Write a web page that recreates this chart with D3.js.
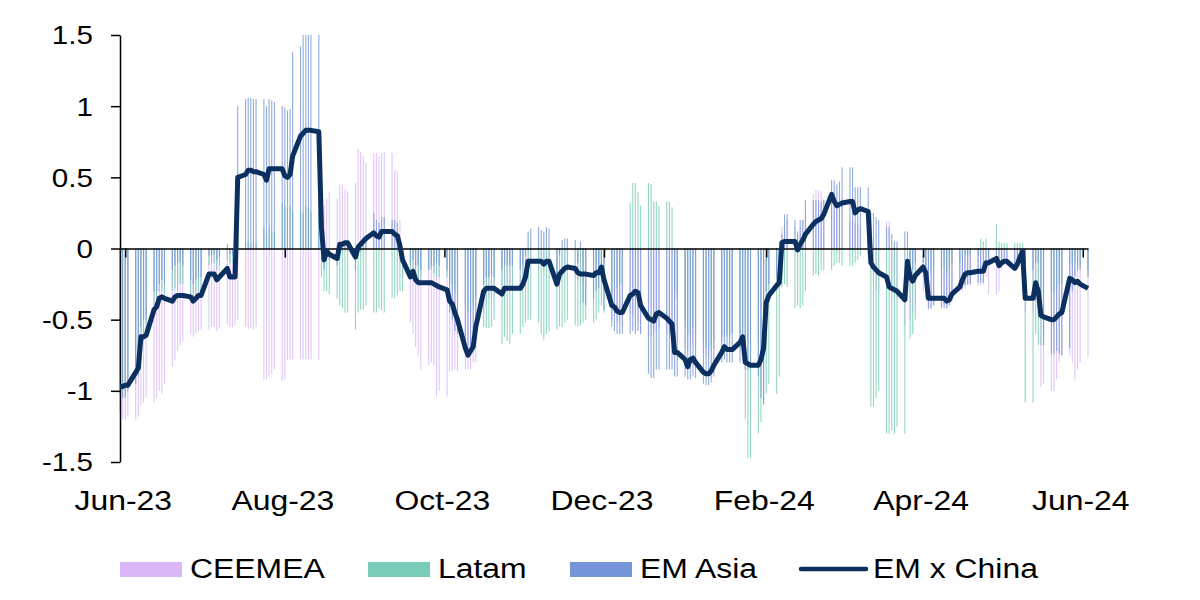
<!DOCTYPE html>
<html>
<head>
<meta charset="utf-8">
<script src="https://cdn.jsdelivr.net/npm/d3@7"></script>
<style>
  body { margin: 0; background: #fff; }
  text { font-family: "Liberation Sans", Arial, sans-serif; fill: #000; }
</style>
</head>
<body>
<svg id="chart" width="1200" height="600"></svg>
<script>
// series names and colours
var seriesNames = ["CEEMEA", "Latam", "EM Asia"];
var seriesColors = ["#dab8f7", "#78ccb8", "#7496d8"];
var lineName = "EM x China";
var lineColor = "#0b2f5e";

// axis ticks
var yTicks = [-1.5, -1, -0.5, 0, 0.5, 1, 1.5];
var xTickDates = ["2023-06-01", "2023-08-01", "2023-10-01", "2023-12-01", "2024-02-01", "2024-04-01", "2024-06-01"];
var xTickLabels = ["Jun-23", "Aug-23", "Oct-23", "Dec-23", "Feb-24", "Apr-24", "Jun-24"];

// first and last business day shown (one value per weekday in between)
var firstDay = "2023-05-30", lastDay = "2024-06-03";

// EM x China (line), one row per week
var emxChina = [
  -0.97,-0.97,-0.96,-0.96,
  -0.87,-0.84,-0.62,-0.62,-0.61,
  -0.43,-0.41,-0.35,-0.34,-0.35,
  -0.37,-0.34,-0.33,-0.33,-0.33,
  -0.34,-0.37,-0.35,-0.33,-0.33,
  -0.18,-0.18,-0.18,-0.22,-0.20,
  -0.14,-0.20,-0.20,-0.20,0.50,
  0.52,0.55,0.55,0.54,0.54,
  0.52,0.48,0.56,0.56,0.56,
  0.56,0.51,0.50,0.52,0.65,
  0.79,0.81,0.83,0.83,0.83,
  0.82,0.15,-0.08,-0.02,-0.04,
  -0.07,0.03,0.03,0.04,0.04,
  -0.06,0.01,0.03,0.05,0.07,
  0.11,0.09,0.08,0.12,0.12,
  0.12,0.10,0.09,0.02,-0.08,
  -0.20,-0.16,-0.22,-0.24,-0.24,
  -0.24,-0.24,-0.25,-0.26,-0.27,
  -0.29,-0.37,-0.39,-0.45,-0.50,
  -0.70,-0.75,-0.72,-0.69,-0.55,
  -0.30,-0.28,-0.28,-0.28,-0.28,
  -0.32,-0.28,-0.28,-0.28,-0.28,
  -0.28,-0.25,-0.20,-0.09,-0.09,
  -0.09,-0.09,-0.11,-0.09,-0.09,
  -0.25,-0.18,-0.16,-0.14,-0.13,
  -0.14,-0.17,-0.18,-0.18,-0.18,
  -0.19,-0.17,-0.17,-0.13,-0.22,
  -0.40,-0.41,-0.44,-0.45,-0.45,
  -0.33,-0.32,-0.30,-0.31,-0.40,
  -0.49,-0.50,-0.51,-0.46,-0.45,
  -0.49,-0.51,-0.53,-0.73,-0.73,
  -0.78,-0.83,-0.78,-0.77,-0.80,
  -0.87,-0.88,-0.88,-0.86,-0.82,
  -0.73,-0.69,-0.71,-0.71,-0.71,
  -0.66,-0.62,-0.80,-0.81,-0.82,
  -0.82,-0.78,-0.70,-0.38,-0.33,
  -0.26,-0.24,0.04,0.05,0.05,
  0.05,-0.01,0.03,0.06,0.10,
  0.17,0.19,0.20,0.21,0.24,
  0.38,0.33,0.30,0.31,0.32,
  0.33,0.33,0.25,0.27,0.28,
  0.26,-0.10,-0.13,-0.15,-0.17,
  -0.20,-0.27,-0.28,-0.29,-0.30,
  -0.36,-0.09,-0.20,-0.23,-0.19,
  -0.13,-0.17,-0.35,-0.35,-0.35,
  -0.35,-0.35,-0.37,-0.36,-0.32,
  -0.27,-0.22,-0.18,-0.17,-0.17,
  -0.16,-0.16,-0.16,-0.10,-0.10,
  -0.07,-0.12,-0.10,-0.09,-0.09,
  -0.14,-0.11,-0.06,-0.02,-0.35,
  -0.35,-0.24,-0.30,-0.47,-0.48,
  -0.50,-0.50,-0.48,-0.46,-0.45,
  -0.21,-0.22,-0.24,-0.23,-0.25,
  -0.28
];

var ceemea = [
  -1.15,-1.20,-1.20,-1.18,
  -1.20,-1.18,-1.10,-1.08,-1.05,
  -1.08,-1.05,-1.00,-1.02,-0.95,
  -0.83,-0.78,-0.72,-0.68,-0.65,
  -0.60,-0.62,-0.60,-0.58,-0.57,
  -0.57,-0.55,-0.55,-0.58,-0.56,
  -0.53,-0.55,-0.55,-0.54,-0.50,
  -0.55,-0.57,-0.56,-0.57,-0.55,
  -0.92,-0.92,-0.90,-0.88,-0.85,
  -0.93,-0.92,-0.78,-0.78,-0.78,
  -0.78,-0.78,-0.78,-0.78,-0.78,
  -0.78,0.20,0.30,0.35,0.40,
  0.35,0.45,0.45,0.42,0.40,
  0.46,0.70,0.68,0.65,0.60,
  0.67,0.67,0.65,0.67,0.68,
  0.67,0.55,0.54,0.20,-0.20,
  -0.52,-0.60,-0.69,-0.75,-0.85,
  -0.82,-0.80,-0.82,-1.04,-1.00,
  -1.04,-0.86,-0.86,-0.85,-0.86,
  -0.85,-0.85,-0.85,-0.80,-0.80,
  -0.45,-0.40,-0.35,-0.35,-0.33,
  -0.30,-0.28,-0.25,-0.25,-0.28,
  -0.25,-0.22,-0.20,-0.12,-0.10,
  -0.15,-0.12,-0.15,-0.12,-0.12,
  -0.20,-0.18,-0.18,-0.15,-0.15,
  -0.20,-0.22,-0.25,-0.25,-0.25,
  -0.25,-0.20,-0.20,-0.15,-0.30,
  -0.50,-0.50,-0.52,-0.52,-0.55,
  -0.45,-0.48,-0.55,-0.52,-0.60,
  -0.60,-0.62,-0.60,-0.58,-0.55,
  -0.60,-0.60,-0.62,-0.65,-0.65,
  -0.70,-0.72,-0.70,-0.68,-0.70,
  -0.72,-0.75,-0.75,-0.72,-0.70,
  -0.65,-0.62,-0.60,-0.60,-0.60,
  -0.60,-0.55,-0.65,-0.65,-0.65,
  -0.65,-0.60,-0.55,-0.40,-0.35,
  -0.30,-0.25,0.15,0.18,0.20,
  0.15,0.10,0.15,0.20,0.25,
  0.38,0.41,0.41,0.40,0.35,
  0.40,0.35,0.30,0.32,0.35,
  0.19,0.20,0.18,0.18,0.15,
  0.10,-0.15,-0.25,-0.30,-0.32,
  0.19,0.19,-0.30,-0.35,-0.35,
  -0.54,-0.30,-0.50,-0.45,-0.40,
  -0.30,-0.35,-0.43,-0.42,-0.40,
  -0.40,-0.40,-0.42,-0.40,-0.38,
  -0.30,-0.30,-0.28,-0.26,-0.26,
  -0.26,-0.26,-0.25,-0.20,-0.32,
  -0.32,-0.30,-0.15,-0.12,-0.12,
  -0.15,-0.15,-0.10,-0.05,-0.45,
  -0.45,-0.30,-0.50,-0.97,-0.95,
  -1.00,-1.00,-0.92,-0.80,-0.75,
  -0.75,-0.80,-0.92,-0.85,-0.80,
  -0.76
];

var latam = [
  -0.95,-1.00,-0.98,-0.90,
  -0.85,-0.80,-0.70,-0.65,-0.60,
  -0.40,-0.35,-0.30,-0.30,-0.32,
  -0.30,-0.28,-0.30,-0.25,-0.25,
  -0.35,-0.38,-0.35,-0.30,-0.30,
  -0.12,-0.10,-0.10,-0.15,-0.12,
  -0.08,-0.10,-0.10,-0.10,0.05,
  0.05,0.05,0.03,0.05,0.04,
  0.15,0.10,0.15,0.12,0.12,
  0.32,0.30,0.28,0.30,0.25,
  0.26,0.25,0.30,0.28,0.26,
  0.25,-0.20,-0.30,-0.30,-0.32,
  -0.35,-0.40,-0.42,-0.45,-0.45,
  -0.57,-0.45,-0.43,-0.43,-0.40,
  -0.45,-0.45,-0.42,-0.43,-0.45,
  -0.35,-0.35,-0.33,-0.30,-0.30,
  -0.20,-0.15,-0.20,-0.22,-0.22,
  -0.15,-0.15,-0.18,-0.20,-0.20,
  -0.20,-0.25,-0.25,-0.30,-0.30,
  -0.40,-0.45,-0.45,-0.40,-0.35,
  -0.55,-0.56,-0.56,-0.55,-0.50,
  -0.67,-0.62,-0.65,-0.67,-0.60,
  -0.60,-0.55,-0.52,-0.50,-0.50,
  -0.52,-0.60,-0.64,-0.60,-0.58,
  -0.57,-0.55,-0.55,-0.52,-0.50,
  -0.54,-0.55,-0.54,-0.52,-0.50,
  -0.52,-0.50,-0.45,-0.40,-0.45,
  -0.35,-0.30,-0.28,-0.25,-0.25,
  0.32,0.46,0.46,0.40,0.30,
  0.46,0.45,0.33,0.33,0.30,
  0.33,0.33,0.29,-0.30,-0.35,
  -0.55,-0.60,-0.60,-0.55,-0.60,
  -0.65,-0.70,-0.70,-0.68,-0.65,
  -0.62,-0.60,-0.62,-0.62,-0.60,
  -0.70,-0.65,-1.20,-1.47,-1.47,
  -1.30,-1.22,-1.10,-1.02,-0.95,
  -1.02,-0.90,-0.27,-0.25,-0.27,
  -0.42,-0.40,-0.42,-0.40,-0.30,
  -0.19,-0.18,-0.19,-0.15,-0.15,
  -0.15,-0.12,-0.10,-0.10,-0.12,
  -0.12,-0.12,-0.10,-0.08,-0.05,
  -0.05,-1.11,-1.11,-1.05,-1.00,
  -1.30,-1.30,-1.28,-1.30,-1.25,
  -1.30,-0.20,-0.63,-0.60,-0.50,
  -0.10,-0.12,-0.15,-0.15,-0.12,
  -0.15,-0.12,-0.18,-0.15,-0.10,
  -0.10,-0.08,-0.05,-0.05,-0.05,
  -0.05,0.07,0.05,0.07,-0.05,
  0.17,0.05,0.04,0.04,0.04,
  0.04,0.04,0.04,0.04,-1.08,
  -1.08,-0.60,-0.68,-0.68,-0.60,
  -0.30,-0.30,-0.28,-0.25,-0.25,
  -0.10,-0.12,-0.10,-0.10,-0.12,
  -0.15
];

var emAsia = [
  -1.02,-1.05,-1.05,-1.00,
  -0.95,-0.90,-0.55,-0.50,-0.50,
  -0.30,-0.30,-0.25,-0.22,-0.25,
  -0.15,-0.12,-0.10,-0.10,-0.12,
  -0.22,-0.25,-0.22,-0.20,-0.20,
  -0.05,-0.05,-0.04,-0.08,-0.06,
  0.03,-0.04,-0.05,-0.05,1.00,
  1.05,1.06,1.06,1.05,1.05,
  1.05,1.00,1.05,1.04,1.03,
  1.00,0.99,0.97,0.98,1.38,
  1.42,1.50,1.50,1.50,1.50,
  1.50,0.20,-0.15,-0.05,-0.08,
  -0.12,0.02,0.02,0.04,0.04,
  -0.15,-0.05,-0.02,0.02,0.05,
  0.25,0.20,0.18,0.22,0.22,
  0.20,0.20,0.18,0.05,-0.05,
  -0.10,-0.08,-0.12,-0.12,-0.15,
  -0.15,-0.12,-0.12,-0.10,-0.12,
  -0.15,-0.45,-0.50,-0.58,-0.60,
  -0.70,-0.71,-0.71,-0.70,-0.60,
  -0.25,-0.20,-0.20,-0.18,-0.20,
  -0.15,-0.12,-0.12,-0.12,-0.12,
  -0.15,-0.12,-0.05,0.12,0.14,
  0.15,0.13,0.12,0.15,0.14,
  -0.20,-0.05,0.06,0.07,0.07,
  0.06,-0.10,0.05,-0.38,-0.40,
  -0.35,-0.30,-0.28,-0.20,-0.43,
  -0.55,-0.58,-0.60,-0.60,-0.60,
  -0.60,-0.58,-0.60,-0.58,-0.60,
  -0.88,-0.91,-0.91,-0.85,-0.85,
  -0.85,-0.85,-0.85,-0.90,-0.90,
  -0.90,-0.92,-0.92,-0.90,-0.91,
  -0.95,-0.96,-0.96,-0.94,-0.90,
  -0.80,-0.78,-0.80,-0.80,-0.80,
  -0.80,-0.75,-0.85,-0.85,-0.84,
  -0.90,-1.05,-1.09,-0.30,-0.25,
  -0.20,-0.15,0.10,0.24,0.24,
  0.20,0.12,0.20,0.20,0.34,
  0.34,0.34,0.34,0.33,0.34,
  0.48,0.48,0.45,0.47,0.57,
  0.57,0.57,0.43,0.43,0.43,
  0.43,0.25,0.25,0.22,0.20,
  0.15,0.15,0.10,0.05,0.05,
  0.12,0.12,-0.10,-0.15,-0.10,
  -0.10,-0.15,-0.42,-0.42,-0.40,
  -0.42,-0.42,-0.42,-0.40,-0.35,
  -0.28,-0.28,-0.26,-0.25,-0.25,
  -0.24,-0.24,-0.24,-0.12,-0.10,
  -0.05,-0.12,-0.10,-0.08,-0.08,
  -0.15,-0.12,-0.08,-0.02,-0.15,
  -0.15,-0.10,-0.10,-0.40,-0.68,
  -0.74,-0.74,-0.72,-0.74,-0.75,
  -0.70,-0.30,-0.20,-0.15,-0.15,
  -0.20
];

var seriesValues = [ceemea, latam, emAsia];

var plotLeft = 120, plotRight = 1088, plotTop = 35, plotBottom = 462;
var stretch = 1.14; // text in the picture is a little wider than it is tall

var parse = d3.timeParse("%Y-%m-%d");

// weekdays only
var days = d3.timeDay.range(parse(firstDay), d3.timeDay.offset(parse(lastDay), 1))
  .filter(function(d) { var w = d.getDay(); return w > 0 && w < 6; });

var x = d3.scaleTime()
  .domain([parse(firstDay), parse(lastDay)])
  .range([plotLeft, plotRight]);

var y = d3.scaleLinear()
  .domain([-1.5, 1.5])
  .range([plotBottom, plotTop]);

var svg = d3.select("#chart");

// bars, drawn over each other from zero
var barW = 1.1;
var bars = svg.append("g");
seriesValues.forEach(function(vals, s) {
  bars.append("g").selectAll("rect")
    .data(vals.slice(0, days.length))
    .join("rect")
      .attr("x", function(v, i) { return x(days[i]) - barW / 2; })
      .attr("width", barW)
      .attr("y", function(v) { return y(Math.max(0, v)); })
      .attr("height", function(v) { return Math.abs(y(v) - y(0)); })
      .attr("fill", seriesColors[s])
      .attr("fill-opacity", 0.8);
});

// y axis
svg.append("g")
  .attr("transform", "translate(" + plotLeft + ",0)")
  .call(d3.axisLeft(y).tickValues(yTicks).tickSize(9).tickSizeOuter(0).tickFormat(""))
  .call(function(g) {
    g.selectAll("line, path").attr("stroke", "#000").attr("stroke-width", 1.5);
  });

svg.append("g").selectAll("text")
  .data(yTicks)
  .join("text")
    .attr("transform", function(d) { return "translate(93," + y(d) + ") scale(" + stretch + ",1)"; })
    .attr("text-anchor", "end")
    .attr("dy", "0.36em")
    .style("font-size", "26px")
    .text(function(d) { return String(d); });

// x axis at zero
var xTicks = xTickDates.map(parse);
svg.append("g")
  .attr("transform", "translate(0," + y(0) + ")")
  .call(d3.axisBottom(x).tickValues(xTicks).tickSize(9).tickSizeOuter(0).tickFormat(""))
  .call(function(g) {
    g.selectAll("line, path").attr("stroke", "#000").attr("stroke-width", 1.5);
  });

svg.append("g").selectAll("text")
  .data(xTicks)
  .join("text")
    .attr("transform", function(d) { return "translate(" + (x(d) - 2) + ",510) scale(" + stretch + ",1)"; })
    .attr("text-anchor", "middle")
    .style("font-size", "28px")
    .text(function(d, i) { return xTickLabels[i]; });

// line
var line = d3.line()
  .x(function(v, i) { return x(days[i]); })
  .y(function(v) { return y(v); });

svg.append("path")
  .attr("d", line(emxChina.slice(0, days.length)))
  .attr("fill", "none")
  .attr("stroke", lineColor)
  .attr("stroke-width", 5)
  .attr("stroke-linejoin", "round");

// legend
var legendX = [120, 368, 570];
var legend = svg.append("g");
seriesNames.forEach(function(name, s) {
  legend.append("rect")
    .attr("x", legendX[s]).attr("y", 562)
    .attr("width", 62).attr("height", 15)
    .attr("fill", seriesColors[s]);
  legend.append("text")
    .attr("transform", "translate(" + (legendX[s] + 70) + ",578) scale(" + stretch + ",1)")
    .style("font-size", "28px")
    .text(name);
});
legend.append("line")
  .attr("x1", 801).attr("x2", 866)
  .attr("y1", 569).attr("y2", 569)
  .attr("stroke", lineColor)
  .attr("stroke-width", 4.5)
  .attr("stroke-linecap", "round");
legend.append("text")
  .attr("transform", "translate(873,578) scale(" + stretch + ",1)")
  .style("font-size", "28px")
  .text(lineName);
</script>
</body>
</html>
